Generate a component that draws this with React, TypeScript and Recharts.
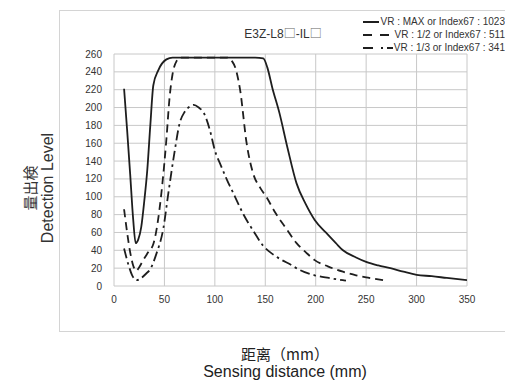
import { LineChart, Line, XAxis, YAxis, CartesianGrid, Legend } from 'recharts';

// distance (mm) / detection level
const maxData = [
  { d: 10, v: 221 }, { d: 13, v: 175 }, { d: 16, v: 126 }, { d: 19, v: 75 }, { d: 21.5, v: 48 },
  { d: 24, v: 52 }, { d: 27, v: 66 }, { d: 30, v: 95 }, { d: 33, v: 130 }, { d: 36, v: 180 },
  { d: 39, v: 225 }, { d: 44, v: 242 }, { d: 52, v: 254 }, { d: 58, v: 256 }, { d: 90, v: 256 },
  { d: 140, v: 256 }, { d: 148, v: 255 }, { d: 152, v: 245 }, { d: 157, v: 222 }, { d: 164, v: 194 },
  { d: 172, v: 155 }, { d: 181, v: 115 }, { d: 190, v: 92 }, { d: 199, v: 74 }, { d: 210, v: 60 },
  { d: 220, v: 48 }, { d: 227, v: 40 }, { d: 240, v: 32 }, { d: 250, v: 27 }, { d: 262, v: 23 },
  { d: 274, v: 20 }, { d: 287, v: 16 }, { d: 300, v: 12.5 }, { d: 315, v: 11 }, { d: 330, v: 9 },
  { d: 350, v: 6.5 },
];

const halfData = [
  { d: 10, v: 86 }, { d: 13, v: 60 }, { d: 16, v: 38 }, { d: 19, v: 23 }, { d: 22, v: 17 },
  { d: 25, v: 21 }, { d: 29, v: 29 }, { d: 34, v: 38 }, { d: 39, v: 47 }, { d: 42, v: 62 },
  { d: 45, v: 85 }, { d: 48, v: 115 }, { d: 52, v: 165 }, { d: 55, v: 210 }, { d: 58, v: 237 },
  { d: 62, v: 252 }, { d: 66, v: 256 }, { d: 90, v: 256 }, { d: 112, v: 256 }, { d: 117, v: 252 },
  { d: 121, v: 242 }, { d: 125, v: 220 }, { d: 131.5, v: 160 }, { d: 138, v: 126 }, { d: 145, v: 110 },
  { d: 151, v: 100 }, { d: 160, v: 82 }, { d: 171, v: 64 }, { d: 181, v: 48 }, { d: 190, v: 38 },
  { d: 199, v: 29 }, { d: 212, v: 22 }, { d: 227, v: 16 }, { d: 240, v: 12 }, { d: 250, v: 9.7 },
  { d: 262, v: 7.5 }, { d: 270, v: 6 },
];

const thirdData = [
  { d: 10, v: 42 }, { d: 14, v: 25 }, { d: 18, v: 12 }, { d: 22.5, v: 6.5 }, { d: 27, v: 9 },
  { d: 32, v: 14 }, { d: 36, v: 19 }, { d: 42, v: 36 }, { d: 49, v: 65 }, { d: 54, v: 105 },
  { d: 60, v: 150 }, { d: 65, v: 182 }, { d: 70, v: 195 }, { d: 75, v: 201 }, { d: 79, v: 203 },
  { d: 84, v: 200 }, { d: 89, v: 194 }, { d: 95, v: 175 }, { d: 100, v: 152 }, { d: 106, v: 135 },
  { d: 112, v: 119 }, { d: 120, v: 100 }, { d: 128, v: 81 }, { d: 138, v: 62 }, { d: 148, v: 45 },
  { d: 157, v: 36 }, { d: 165, v: 30 }, { d: 175, v: 24 }, { d: 184, v: 18 }, { d: 199, v: 12 },
  { d: 213, v: 9 }, { d: 227, v: 6.5 }, { d: 230, v: 6 },
];

const xTicks = [0, 50, 100, 150, 200, 250, 300, 350];
const yTicks = [0, 20, 40, 60, 80, 100, 120, 140, 160, 180, 200, 220, 240, 260];

const titleParts = ['E3Z-L8', '□', '-IL', '□'];
const yLabelJa = '量出検';
const yLabelEn = 'Detection Level';
const xLabelJa = '距离（mm）';
const xLabelEn = 'Sensing distance (mm)';

const series = [
  { key: 'max', label: 'VR : MAX or Index67 : 1023', data: maxData, dash: undefined, legendDash: undefined },
  { key: 'half', label: 'VR : 1/2 or Index67 : 511', data: halfData, dash: '8 5', legendDash: '9 8' },
  { key: 'third', label: 'VR : 1/3 or Index67 : 341', data: thirdData, dash: '10 4 2.5 4', legendDash: '10 8 2 4' },
];

const INK = '#1e1e1e';
const SANS = '"Liberation Sans", Arial, sans-serif';
const tickStyle = { fontSize: 10, fill: '#333', fontFamily: SANS };

function LegendBox() {
  return (
    <div style={{ fontFamily: '"Liberation Sans Narrow", "Liberation Sans", Arial, sans-serif', fontSize: 10, color: '#333' }}>
      {series.map((s) => (
        <div key={s.key} style={{ display: 'flex', alignItems: 'center', height: 13 }}>
          <svg width={34} height={6} style={{ display: 'block' }}>
            <line x1={0} y1={3} x2={34} y2={3} stroke={INK} strokeWidth={2} strokeDasharray={s.legendDash} />
          </svg>
          <span style={{ marginLeft: 1, whiteSpace: 'nowrap' }}>{s.label}</span>
        </div>
      ))}
    </div>
  );
}

export default function App() {
  return (
    <div style={{ position: 'absolute', left: 0, top: 0, width: 505, height: 382, overflow: 'hidden', background: '#fff' }}>
      <div style={{ position: 'absolute', left: 59, top: 10, width: 460, height: 320, border: '1px solid #d4d4d4' }} />
      <LineChart
        width={505}
        height={382}
        margin={{ top: 54, right: 38, bottom: 66, left: 0 }}
        style={{ position: 'absolute', left: 0, top: 0 }}
      >
        <CartesianGrid stroke="#c8c8c8" strokeWidth={1} />
        <XAxis
          type="number"
          dataKey="d"
          domain={[0, 350]}
          ticks={xTicks}
          axisLine={false}
          tickLine={false}
          tickSize={0}
          tickMargin={10}
          height={30}
          tick={tickStyle}
          allowDataOverflow
        />
        <YAxis
          type="number"
          domain={[0, 260]}
          ticks={yTicks}
          axisLine={false}
          tickLine={false}
          tickSize={0}
          tickMargin={12}
          width={114}
          tick={tickStyle}
          interval={0}
        />
        <Legend
          layout="vertical"
          align="center"
          verticalAlign="middle"
          content={() => <LegendBox />}
          wrapperStyle={{ left: 363, top: 15, width: 142 }}
        />
        {series.map((s) => (
          <Line
            key={s.key}
            data={s.data}
            dataKey="v"
            type="monotone"
            stroke={INK}
            strokeWidth={1.8}
            strokeDasharray={s.dash}
            dot={false}
            activeDot={false}
            isAnimationActive={false}
          />
        ))}
      </LineChart>
      <div
        style={{
          position: 'absolute', left: 200, top: 25, width: 166, textAlign: 'center', lineHeight: '16px',
          fontFamily: SANS, fontSize: 12, color: '#333', whiteSpace: 'nowrap',
        }}
      >
        {titleParts.map((p, i) =>
          p === '□' ? (
            <span key={i} style={{ fontFamily: '"Noto Sans CJK JP", sans-serif', fontSize: 12, color: '#666' }}>{p}</span>
          ) : (
            <span key={i}>{p}</span>
          ),
        )}
      </div>
      <div
        style={{
          position: 'absolute', left: 39 - 80, top: 188 - 18, width: 160, height: 36,
          transform: 'rotate(-90deg)', textAlign: 'center', color: '#333', lineHeight: '18px',
          fontFamily: SANS, fontSize: 16,
        }}
      >
        <div style={{ fontFamily: '"Noto Sans CJK JP", sans-serif', fontSize: 15, height: 18 }}>{yLabelJa}</div>
        <div style={{ height: 18 }}>{yLabelEn}</div>
      </div>
      <div
        style={{
          position: 'absolute', left: 185, top: 346, width: 200, height: 16, textAlign: 'center', color: '#222',
          fontFamily: '"Noto Sans CJK SC", sans-serif', fontSize: 15, lineHeight: '16px',
        }}
      >
        {xLabelJa}
      </div>
      <div
        style={{
          position: 'absolute', left: 185, top: 364, width: 200, height: 16, textAlign: 'center', color: '#222',
          fontFamily: SANS, fontSize: 16, lineHeight: '16px',
        }}
      >
        {xLabelEn}
      </div>
    </div>
  );
}
